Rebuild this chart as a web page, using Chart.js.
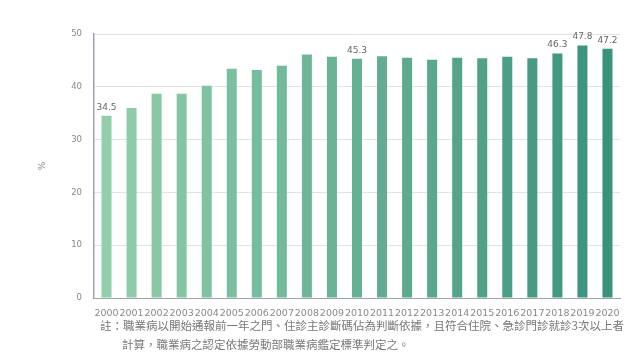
<!DOCTYPE html>
<html>
<head>
<meta charset="utf-8">
<script src="https://cdn.jsdelivr.net/npm/chart.js@4.4.1/dist/chart.umd.min.js"></script>
<style>
  html, body { margin: 0; padding: 0; background: #fff; }
  #wrap { width: 627px; height: 353px; position: relative; }
</style>
</head>
<body>
<div id="wrap"><canvas id="occChart"></canvas></div>
<script>
// data
const years = ['2000', '2001', '2002', '2003', '2004', '2005', '2006', '2007', '2008', '2009', '2010',
               '2011', '2012', '2013', '2014', '2015', '2016', '2017', '2018', '2019', '2020'];
const rates = [34.5, 36.0, 38.7, 38.7, 40.2, 43.4, 43.2, 44.0, 46.1, 45.7, 45.3,
               45.8, 45.5, 45.1, 45.5, 45.4, 45.7, 45.4, 46.3, 47.8, 47.2];
const labelled = [0, 10, 18, 19, 20];
const yTicks = [0, 10, 20, 30, 40, 50];
const notes = [
    '註：職業病以開始通報前一年之門、住診主診斷碼佔為判斷依據，且符合住院、急診門診就診3次以上者',
    '計算，職業病之認定依據勞動部職業病鑑定標準判定之。'
];

// light mint -> teal, left to right
function barColor(i, n) {
    const a = [146, 206, 172], b = [58, 146, 124];
    const t = i / (n - 1);
    const c = a.map((v, k) => Math.round(v + (b[k] - v) * t));
    return `rgb(${c[0]},${c[1]},${c[2]})`;
}

const valueLabels = {
    id: 'valueLabels',
    afterDatasetsDraw(chart) {
        const ctx = chart.ctx;
        const meta = chart.getDatasetMeta(0);
        ctx.save();
        ctx.font = '9px "DejaVu Sans", sans-serif';
        ctx.fillStyle = '#666';
        ctx.textAlign = 'center';
        ctx.textBaseline = 'bottom';
        labelled.forEach(i => {
            const bar = meta.data[i];
            ctx.fillText(rates[i].toFixed(1), bar.x, bar.y - 4);
        });
        ctx.restore();
    }
};

const footNotes = {
    id: 'footNotes',
    afterDraw(chart) {
        const ctx = chart.ctx;
        ctx.save();
        ctx.font = '11.5px "Noto Sans CJK TC", sans-serif';
        ctx.fillStyle = '#777';
        ctx.textBaseline = 'middle';
        ctx.fillText(notes[0], 100, 326);
        ctx.fillText(notes[1], 122, 345);
        ctx.restore();
    }
};

new Chart(document.getElementById('occChart'), {
    type: 'bar',
    data: {
        labels: years,
        datasets: [{
            data: rates,
            backgroundColor: rates.map((v, i) => barColor(i, rates.length)),
            barPercentage: 0.8,
            categoryPercentage: 0.5
        }]
    },
    options: {
        responsive: true,
        maintainAspectRatio: false,
        animation: false,
        layout: { padding: { top: 34, right: 7, left: 33, bottom: 0 } },
        scales: {
            x: {
                grid: { display: false },
                border: { color: '#9aa3b5', width: 1 },
                ticks: {
                    autoSkip: false, maxRotation: 0, minRotation: 0, padding: 2,
                    color: '#888', font: { size: 9.5, family: '"DejaVu Sans", sans-serif' }
                },
                afterFit(scale) { scale.height = 55; }
            },
            y: {
                min: 0, max: 50,
                afterBuildTicks(scale) { scale.ticks = yTicks.map(v => ({ value: v })); },
                grid: { color: '#e3e3e3', drawTicks: false },
                border: { color: '#9aa3b5', width: 1.5 },
                ticks: {
                    padding: 12, color: '#888',
                    font: { size: 8.5, family: '"DejaVu Sans", sans-serif' }
                },
                title: {
                    display: true, text: '%', color: '#888',
                    font: { size: 9, family: '"DejaVu Sans", sans-serif' }, padding: { bottom: 30 }
                },
                afterFit(scale) { scale.width = 61; }
            }
        },
        plugins: {
            legend: { display: false },
            tooltip: { enabled: false }
        }
    },
    plugins: [valueLabels, footNotes]
});
</script>
</body>
</html>
